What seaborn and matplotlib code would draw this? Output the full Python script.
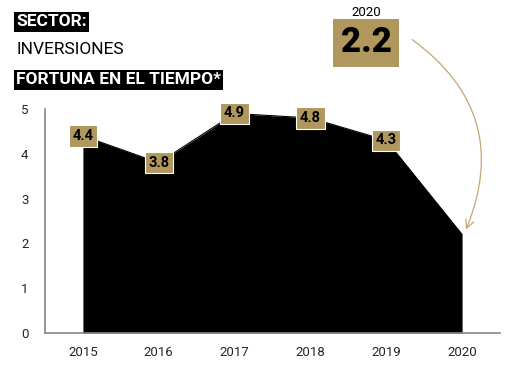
import matplotlib
matplotlib.use("Agg")
import matplotlib.pyplot as plt
import numpy as np
import pandas as pd
import seaborn as sns
from matplotlib.patches import FancyArrowPatch

years = [2015, 2016, 2017, 2018, 2019, 2020]
fortuna = [4.4, 3.8, 4.9, 4.8, 4.3, 2.2]
labels = ["4.4", "3.8", "4.9", "4.8", "4.3"]
yticks = [0, 1, 2, 3, 4, 5]

GOLD = "#b0975e"

sns.set_style("white")
plt.rcParams["font.family"] = ["Liberation Sans Narrow", "Roboto", "DejaVu Sans"]

df = pd.DataFrame({"year": years, "fortuna": fortuna})

fig = plt.figure(figsize=(5.16, 3.74), dpi=100)
ax = fig.add_axes([45 / 516, 41 / 374, 455 / 516, 224 / 374])

sns.lineplot(data=df, x="year", y="fortuna", color="black", lw=0.8, ax=ax)
ax.fill_between(df["year"], df["fortuna"], 0, color="black", lw=0)

for x, y, t in zip(years[:-1], fortuna[:-1], labels):
    ax.text(x, y, t, ha="center", va="center", fontsize=10.5, fontweight="bold",
            color="black", family=["Roboto", "DejaVu Sans"],
            bbox=dict(boxstyle="square,pad=0.25", fc=GOLD, ec="white", lw=0.8),
            zorder=5, clip_on=False)

ax.set_xlim(2014.5, 2020.5)
ax.set_ylim(0, 5)
ax.set_xticks(years)
ax.set_xticklabels([str(y) for y in years], family=["Roboto", "DejaVu Sans"], fontsize=9.5)
ax.set_yticks(yticks)
ax.set_yticklabels([str(y) for y in yticks], family=["Roboto", "DejaVu Sans"], fontsize=9.5)
ax.set_xticks([2020.5], minor=True)
ax.tick_params(axis="y", direction="in", length=9, width=1.2, color="#888888", pad=12)
ax.tick_params(axis="x", which="major", length=0, pad=9)
ax.tick_params(axis="x", which="minor", direction="in", length=5, width=1, color="#333333")
ax.set_xlabel("")
ax.set_ylabel("")
for s in ["top", "right"]:
    ax.spines[s].set_visible(False)
ax.spines["left"].set_color("#888888")
ax.spines["left"].set_linewidth(1.2)
ax.spines["bottom"].set_color("#888888")
ax.spines["bottom"].set_linewidth(1.2)

# header
fig.text(16 / 516, 1 - 22 / 374, "SECTOR:", ha="left", va="center", fontsize=12.5,
         fontweight="bold", color="white",
         bbox=dict(boxstyle="square,pad=0.14", fc="black", ec="none"))
fig.text(16 / 516, 1 - 49 / 374, "INVERSIONES", ha="left", va="center", fontsize=12.5,
         color="black")
fig.text(16 / 516, 1 - 80 / 374, "FORTUNA EN EL TIEMPO*", ha="left", va="center",
         fontsize=12.5, fontweight="bold", color="white",
         bbox=dict(boxstyle="square,pad=0.14", fc="black", ec="none"))

# 2020 highlight
fig.text(366 / 516, 1 - 12 / 374, "2020", ha="center", va="center", fontsize=9.5,
         family=["Roboto", "DejaVu Sans"], color="black")
fig.text(366 / 516, 1 - 43 / 374, "2.2", ha="center", va="center", fontsize=25,
         fontweight="black", family=["Roboto", "DejaVu Sans"], color="black",
         bbox=dict(boxstyle="square,pad=0.22", fc=GOLD, ec="none"))

arrow = FancyArrowPatch((410 / 516, 1 - 38 / 374), (465 / 516, 1 - 232 / 374),
                        transform=fig.transFigure, connectionstyle="arc3,rad=-0.4",
                        arrowstyle="->,head_length=6,head_width=3", color="#c4a676",
                        lw=0.9)
fig.patches.append(arrow)

fig.savefig("out.png", dpi=100)
